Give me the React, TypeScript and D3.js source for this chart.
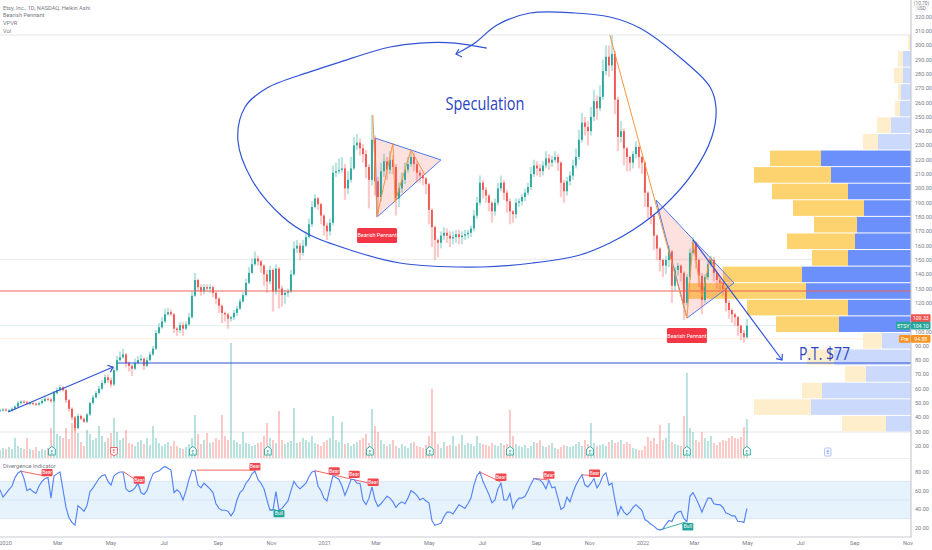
import React from "react";
import * as d3 from "d3";

// ---- price series (one reading every 3.44 calendar days, Heikin Ashi close) ----
const closes = [
  45,45.5,45,45,46,47.5,50,51,50.5,49.5,
  50,49.5,49,50,51.5,53,52.5,51.5,57,59,
  61,59,52,46,40,32.5,41,39,37,42,
  50,54,57,60,64,68,66,63,73,80,
  82,84,78,76,74,78,80,81,76,80,
  84,88,99,103,107,112,113.5,112,102,101,
  104.5,102,105,110,125,136,131,128,131,130,
  131,127,123,118,113,112,109,110,113,116,
  121,125.5,134,141,147,151,149,146,140,135,
  143,128,144,130,125.5,127,128,140,158,160,
  155,160,166,175,187,193,189,181,174,170,
  176,211,212,213,214,200,206,214,230,232,
  228,224,215,206,234,205,194,212,219,213,
  220,215,193,200,206,213,217,222,217,211,
  209,207,203,185,173,164,162,167,169,167,
  165,166,168,166,167,168,169,172,181,190,
  204,199,195,190,184,190,200,204,197,191,
  184,182,190,191,194,197,201,210,216,214,
  212,216,221,218,220,222,218,204,198,205,
  209,216,222,234,246,243,240,250,261,256,
  264,282,292,286,294,262,236,240,228,222,
  218,224,229,222,218,197,187,181,167,158,
  150,146,150,156,132,143,146,141,120,138,
  155,162,150,139,122,138,147,150,141,136,
  134,130,120,115,112,110,104,99,96,104,
];
const wickUp = [
  1,1,1,1,1,1,1.5,1,1,1,
  1,1,1,1,1.5,1.5,1,1,1.5,2,
  1.5,1,1,1,1,1,1.5,1,1,1,
  1,1.5,1.5,2,2,2,2,2,2,3,
  4,4,1,1,1,3,3,3,1,2,
  2,2,2,3,3,4,3,2,1,1,
  2,2,2,3,3,5,1,2,2,2,
  2,1,1,1,1,1,1,1,2,2,
  2,2,3,4,4,5,2,1,1,3,
  3,1,3,1,2,2,2,3,5,4,
  2,4,4,4,4,3,1,1,1,2,
  3,5,6,8,8,3,6,8,6,6,
  3,3,3,2,17,3,3,6,5,3,
  6,3,2,4,5,5,5,5,3,2,
  2,2,1,1,1,1,1,3,4,3,
  3,4,3,3,3,3,2,2,4,4,
  5,2,2,1,1,3,4,5,2,2,
  2,1,3,2,2,3,3,5,4,3,
  3,3,5,3,3,4,2,1,2,3,
  3,4,6,7,7,4,4,7,8,4,
  8,8,8,8,13,2,2,7,2,1,
  1,2,4,1,1,1,1,1,1,1,
  1,1,3,4,1,2,2,1,1,2,
  3,4,1,1,2,2,3,3,2,1,
  1,1,1,2,1,1,1,1,2,5,
];
const wickDown = [
  1,1,1,1,1,0.5,1,1,1,1,
  1,1,1,1,1,1,1,1.5,1,1,
  1,1,2,2,2,2,1,1,1,1,
  1,1,1,1,1,1,2,2,1,1,
  1,1,3,4,5,1,1,1,3,1,
  1,1,1,1,1,1,1,1,3,4,
  2,5,1,1,1,1,3,3,2,2,
  3,3,4,5,7,5,7,2,2,2,
  1,1,1,1,1,1,3,5,8,8,
  2,14,2,14,8,6,3,1,1,3,
  5,2,1,1,2,1,4,6,7,6,
  3,2,3,2,2,8,4,2,1,3,
  5,6,8,20,4,10,12,3,4,7,
  3,5,12,6,3,3,2,2,5,7,
  5,5,7,10,14,14,10,4,3,5,
  6,4,4,5,5,3,3,3,2,2,
  2,6,5,6,8,3,2,2,5,8,
  9,6,3,3,3,3,2,2,2,5,
  4,3,2,5,3,2,6,10,8,3,
  3,3,2,2,2,6,10,3,3,8,
  2,2,3,8,4,10,10,4,12,10,
  6,4,3,8,8,10,8,6,10,8,
  8,8,6,5,12,4,4,6,12,2,
  2,1,6,8,10,2,2,2,6,6,
  5,5,6,6,6,6,7,5,4,1,
];
const volumes = [
  8,10,9,11,9,20,12,10,9,20,
  9,8,11,7,9,8,10,30,67,24,
  22,20,30,19,35,30,25,16,12,28,
  24,18,20,32,22,16,20,25,40,26,
  18,20,28,15,14,12,16,18,14,20,
  13,32,20,15,12,14,16,12,17,12,
  10,9,11,14,20,43,24,14,18,25,
  15,16,20,18,43,22,18,115,18,16,
  14,26,15,14,12,13,15,16,22,35,
  20,18,15,47,18,14,16,17,50,15,
  16,20,18,16,22,15,14,12,16,18,
  20,42,18,16,36,14,15,12,14,16,
  18,20,24,15,49,32,26,18,14,12,
  14,18,12,10,14,12,10,15,16,12,
  11,10,13,22,69,26,14,10,16,12,
  13,22,12,14,23,13,15,14,12,22,
  15,14,13,12,15,13,12,15,13,14,
  48,22,14,12,11,13,10,12,16,15,
  18,12,11,13,15,10,9,11,13,12,
  11,12,14,16,12,18,14,35,15,12,
  13,14,12,16,18,15,16,18,14,16,
  14,10,9,8,8,12,21,17,20,14,
  33,18,20,35,16,14,13,12,42,85,
  30,26,18,16,26,20,17,22,15,13,
  16,18,17,20,22,20,19,21,31,39,
];
const rsi = [
  61,53,57,61,65,74,79,81,73,60,
  62,59,57,65,70,73,74,52,76,78,
  80,61,42,31,26,23,44,41,38,44,
  59,63,68,73,76,77,70,66,76,78.5,
  80,80,62,59,60,63,68,58,56,60,
  70,78,80,81,84,86,84,82,58,61,
  58,50,60,72,82,81,66,63,68,65,
  62,58,46,41,39,39,38,33,38,50,
  58,61,68,72,78,81,72,68,62,50,
  39,39,59,39,41,45,49,60,70,65,
  62,65,68,75,80,81,65,60,52,49,
  63,76,74,72,65,55,63,72,72,68,
  68,50,45,52,64,50,43,46,50,54,
  52,48,42,46,48,46,52,60,58,55,
  50,52,49,47,28,23,24,25,32,37,
  37,35,40,45,43,41,46,52,66,76,
  80,70,63,56,47,50,62,68,50,50,
  57,41,48,52,52,54,60,67,73,72,
  71.5,68,62,71,63,64,52,40,42,53,
  48,58,66,72,77,66,64,68,73,63,
  68,76,79,66,68,50,34,43,37,34,
  37,42,45,42,39,29,27,24,22,19,
  18,19,24,28,27,34,37,38,30,27,
  54,58,52,45,37,45,52,52,46,45,
  45,42,36,35,33,33,27,27,26,41,
];

// ---- visible-range volume profile, lowest bucket first ----
const vpUp = [25,100,89,45,77,29,72,63,105,109,63,56,54,47,63,80,90,33,20,11,10,8,8,1];
const vpDown = [44,57,20,21,27,19,63,101,118,79,36,68,43,71,76,77,51,15,14,5,3,9,5,2];
const vpBase = 29.8;
const vpStep = 11.59;
const vpValueArea = [6, 16];

// ---- levels ----
const levelGray = [307.2, 150.3, 29.8];
const levelLast = 104.1;
const levelHigh = 109.33;
const levelPre = 94.88;
const levelRed = 128.3;
const levelTarget = 78;
const priceTicks = d3.range(20, 321, 10).filter((v) => v !== 110);
const rsiTicks = [20, 40, 60, 80];
const rsiBands = [30, 50, 70];

// ---- drawings as [bar, price] ----
const loopStroke: [number, number][] = [
  [162.3,298],[151.7,301.6],[140,301.6],[130,298.8],[113.3,288.3],[103.3,281.4],[89,270.2],[81.7,256.9],
  [79.3,233.8],[84,205.9],[94.3,180],[103.3,167.4],[116.7,157],[133.3,147.9],[161,145.1],[177.7,147.9],
  [193.3,153.5],[203.3,161.9],[211,170.9],[221,187],[231,210.8],[237.3,235.9],[238.7,256.2],[236.7,270.9],
  [227.7,289.7],[213.3,312.1],[203.3,319.8],[191.7,322.6],[176.7,322.6],[165.7,314.2],[158.3,301.6],[152,293.9],
];
const arrowUp: [number, number][] = [[2.7,43.8],[37.7,75.2]];
const arrowDown: [number, number][] = [[231,164],[260.7,80.1]];
const targetStart = 39.3;
const orangeLong: [number, number][] = [[203.3,307.2],[229,109.4],[231,162.6],[234,124.1],[236.7,151.4],[241.7,129]];
const orangeFirst: [number, number][] = [[124.3,251.3],[125.7,180],[131,231.7],[131.7,190.5],[137,226.8],[141.7,209.4]];
const pennantFirst: [number, number][] = [[125,235.2],[147,219.9],[125.7,180]];
const pennantSecond: [number, number][] = [[218.7,191.9],[244.7,133.9],[229,109.4]];
const pennantLabels: [number, number][] = [[125.7,167.1],[229,97.2]];
const earningsUp = [17.3,64.3,89.3,123.3,143.3,170,196.7,229,249];
const earningsDown = [38];
const earningsFuture = "2022-08-01";

// ---- divergence marks as [bar, rsi] ----
const bearLines: [number, number, number, number][] = [
  [6.7,81,15,75.7],[41.1,80.4,46.1,69.6],[65.6,82,85,82],[105,81.4,124.4,67],
  [159.7,80.4,166.8,69.6],[178,73.2,183,71.4],[194,77,198.2,76],
];
const bullLines: [number, number, number, number][] = [[90,39.6,92,39.6],[220,17.9,229,26.8]];
const bearLabels: [number, number][] = [[15.7,79.3],[46.4,71.4],[85,85.7],[111.4,81],[118.1,77.5],[124.4,69],[167,74.3],[183,76.8],[198.2,78.6]];
const bullLabels: [number, number][] = [[93,35.4],[229.3,21.4]];

const legendLines = ["Etsy, Inc., 1D, NASDAQ, Heikin Ashi", "Bearish Pennant", "VPVR", "Vol"];

// ---- colours ----
const UP = "#26a69a";
const DOWN = "#ef5350";
const BLUE = "#3053d6";
const SKY = "#4d7bf0";
const ORANGE = "#f7953f";
const PINK = "rgba(244,67,54,0.16)";
const TEXT = "#787b86";
const UI = "Roboto, 'Liberation Sans', sans-serif";

// ---- scales ----
const W = 932;
const H = 550;
const AXIS_X = 911;
const DAY = 86400000;
const t0 = Date.UTC(2020, 0, 1);
const xTime = d3.scaleUtc().domain([new Date(t0), new Date(Date.UTC(2022, 0, 1))]).range([5.5, 5.5 + 731 * 0.872]);
const dateAt = (i: number) => new Date(t0 + (i * 3.44 - 6.31) * DAY);
const bx = (i: number) => xTime(dateAt(i));
const yP = d3.scaleLinear().domain([20, 320]).range([446, 446 - 300 * 1.431]);
const yV = d3.scaleLinear().domain([0, 115]).range([458, 343]);
const yR = d3.scaleLinear().domain([20, 80]).range([528, 472]);
const xVP = d3.scaleLinear().domain([0, 223]).range([AXIS_X, 688]);

const monthTicks = d3.utcMonth.range(new Date(t0), new Date(Date.UTC(2022, 11, 1)), 2);
const fmtTick = (d: Date) => (d.getUTCMonth() === 0 ? String(d.getUTCFullYear()) : d3.utcFormat("%b")(d));
const ptsStr = (pts: [number, number][]) => pts.map(([i, p]) => `${bx(i)},${yP(p)}`).join(" ");

const Arrow = ({ pts, color, w = 1.2 }: { pts: [number, number][]; color: string; w?: number }) => {
  const [a, b] = pts;
  const x1 = bx(a[0]), y1 = yP(a[1]), x2 = bx(b[0]), y2 = yP(b[1]);
  const ang = Math.atan2(y2 - y1, x2 - x1);
  const barb = (d: number) => `${x2 + 6 * Math.cos(ang + d)},${y2 + 6 * Math.sin(ang + d)}`;
  return (
    <g fill="none" stroke={color} strokeWidth={w}>
      <line x1={x1} y1={y1} x2={x2} y2={y2} />
      <polyline points={`${barb(Math.PI * 0.78)} ${x2},${y2} ${barb(-Math.PI * 0.78)}`} />
    </g>
  );
};

const Tag = ({ y, fill, text, x = AXIS_X, w = 19.5 }: { y: number; fill: string; text: string; x?: number; w?: number }) => (
  <g>
    <rect x={x} y={y - 3.8} width={w} height={7.6} rx={1} fill={fill} />
    <text x={x + w / 2} y={y + 1.9} textAnchor="middle" fontSize={5.2} fill="#fff" fontFamily={UI}>{text}</text>
  </g>
);

const DivLabel = ({ i, v, fill, text }: { i: number; v: number; fill: string; text: string }) => (
  <g>
    <rect x={bx(i) - 5.5} y={yR(v) - 3.7} width={11} height={7.4} rx={1} fill={fill} />
    <text x={bx(i)} y={yR(v) + 1.8} textAnchor="middle" fontSize={4.8} fill="#fff" fontFamily={UI}>{text}</text>
  </g>
);

export default function App() {
  const rsiPath = d3.line<number>().x((_, i) => bx(i)).y((v) => yR(v))(rsi) ?? "";
  const loopPath = d3.line<[number, number]>().x((d) => bx(d[0])).y((d) => yP(d[1])).curve(d3.curveCatmullRom.alpha(0.5))(loopStroke) ?? "";
  const tipA = loopStroke[loopStroke.length - 1];
  const tipX = bx(tipA[0]), tipY = yP(tipA[1]);

  return (
    <svg width={W} height={H} viewBox={`0 0 ${W} ${H}`} style={{ position: "absolute", left: 0, top: 0, background: "#fff" }} fontFamily={UI}>
      {/* horizontal levels */}
      {levelGray.map((v) => (
        <line key={v} x1={0} x2={AXIS_X} y1={yP(v)} y2={yP(v)} stroke="#eeeeef" strokeWidth={1.4} />
      ))}
      <line x1={0} x2={AXIS_X} y1={yP(levelLast)} y2={yP(levelLast)} stroke="#e3f2f1" strokeWidth={1.2} />
      <line x1={0} x2={AXIS_X} y1={yP(levelPre)} y2={yP(levelPre)} stroke="#fdeede" strokeWidth={1} />

      {/* RSI band */}
      <rect x={0} width={AXIS_X} y={yR(rsiBands[2])} height={yR(rsiBands[0]) - yR(rsiBands[2])} fill="#e6f3fd" />
      {rsiBands.map((v) => (
        <line key={v} x1={0} x2={AXIS_X} y1={yR(v)} y2={yR(v)} stroke="#d8e3ee" strokeWidth={0.9} />
      ))}
      <line x1={0} x2={AXIS_X} y1={458.5} y2={458.5} stroke="#f0f0f1" strokeWidth={1.2} />

      {/* volume profile */}
      {vpUp.map((u, i) => {
        const top = yP(vpBase + (i + 1) * vpStep);
        const h = yP(vpBase + i * vpStep) - top - 1;
        const solid = i >= vpValueArea[0] && i <= vpValueArea[1];
        return (
          <g key={i}>
            <rect x={xVP(u + vpDown[i])} y={top + 0.5} width={xVP(u) - xVP(u + vpDown[i])} height={h} fill={solid ? "#fdd36f" : "#ffeecc"} />
            <rect x={xVP(u)} y={top + 0.5} width={AXIS_X - xVP(u)} height={h} fill={solid ? "#6b8ffb" : "#cbd9fd"} />
          </g>
        );
      })}

      {/* volume */}
      {volumes.map((v, i) => {
        const up = i === 0 || closes[i] >= closes[i - 1];
        return (
          <rect key={i} x={bx(i) - 1} y={yV(v)} width={2} height={yV(0) - yV(v)}
            fill={up ? "rgba(38,166,154,0.32)" : "rgba(239,83,80,0.32)"} />
        );
      })}

      {/* pennant fills */}
      <polygon points={ptsStr(pennantFirst)} fill={PINK} stroke={SKY} strokeWidth={1} />
      <polygon points={ptsStr(pennantSecond)} fill={PINK} stroke={SKY} strokeWidth={1} />

      {/* candles */}
      {closes.map((c, i) => {
        const o = i === 0 ? c : closes[i - 1];
        const color = c >= o ? UP : DOWN;
        const hi = Math.max(o, c) + wickUp[i];
        const lo = Math.min(o, c) - wickDown[i];
        const top = yP(Math.max(o, c));
        const bot = yP(Math.min(o, c));
        return (
          <g key={i}>
            <line x1={bx(i)} x2={bx(i)} y1={yP(hi)} y2={yP(lo)} stroke={color} strokeOpacity={0.3} strokeWidth={2.2} />
            <rect x={bx(i) - 0.9} y={top} width={1.8} height={Math.max(bot - top, 1)} fill={color} />
          </g>
        );
      })}

      {/* levels above candles */}
      <line x1={0} x2={AXIS_X} y1={yP(levelRed)} y2={yP(levelRed)} stroke="#f0625a" strokeWidth={1.2} />
      <line x1={bx(targetStart)} x2={AXIS_X} y1={yP(levelTarget)} y2={yP(levelTarget)} stroke={BLUE} strokeWidth={1.2} />

      {/* drawings */}
      <polyline points={ptsStr(orangeFirst)} fill="none" stroke={ORANGE} strokeWidth={1} />
      <polyline points={ptsStr(orangeLong)} fill="none" stroke={ORANGE} strokeWidth={1} />
      <path d={loopPath} fill="none" stroke={BLUE} strokeWidth={1.2} />
      <polyline points={`${tipX + 3},${tipY - 5} ${tipX},${tipY} ${tipX + 6},${tipY + 3}`} fill="none" stroke={BLUE} strokeWidth={1.1} />
      <Arrow pts={arrowUp} color={BLUE} />
      <Arrow pts={arrowDown} color={BLUE} />
      <text x={485} y={110} textAnchor="middle" fill="#2d44c2" fontSize={19} fontFamily="'Liberation Sans Narrow', 'Open Sans', sans-serif" textLength={79} lengthAdjust="spacingAndGlyphs">Speculation</text>
      <text x={824.5} y={360} textAnchor="middle" fill="#2d44c2" fontSize={19} fontFamily="'Liberation Sans Narrow', 'Open Sans', sans-serif" textLength={51} lengthAdjust="spacingAndGlyphs">P.T. $77</text>
      {pennantLabels.map(([i, p]) => (
        <g key={i}>
          <rect x={bx(i) - 20} y={yP(p) - 7.5} width={40} height={15} rx={1.5} fill="#f23645" />
          <text x={bx(i)} y={yP(p) + 2} textAnchor="middle" fontSize={5.4} fill="#fff">Bearish Pennant</text>
        </g>
      ))}

      {/* earnings marks */}
      {earningsUp.map((i) => {
        const x = bx(i);
        return (
          <g key={i}>
            <path d={`M${x},446.5 L${x + 3.4},449 V455 H${x - 3.4} V449 Z`} fill="#fff" stroke={UP} strokeWidth={0.9} />
            <text x={x} y={453.5} textAnchor="middle" fontSize={4.6} fill={UP}>E</text>
          </g>
        );
      })}
      {earningsDown.map((i) => {
        const x = bx(i);
        return (
          <g key={i}>
            <path d={`M${x},456 L${x + 3.4},453.5 V447.5 H${x - 3.4} V453.5 Z`} fill="#fff" stroke={DOWN} strokeWidth={0.9} />
            <text x={x} y={453} textAnchor="middle" fontSize={4.6} fill={DOWN}>E</text>
          </g>
        );
      })}
      <rect x={xTime(new Date(earningsFuture)) - 3.2} y={448} width={6.4} height={8} rx={1} fill="#fff" stroke="#a9b9f2" strokeWidth={0.9} />
      <text x={xTime(new Date(earningsFuture))} y={454} textAnchor="middle" fontSize={4.6} fill="#5b7ff5">E</text>

      {/* divergence pane */}
      <text x={3} y={467.5} fontSize={5.8} fill={TEXT}>Divergence Indicator</text>
      {bearLines.map(([a, b, c, d], k) => (
        <line key={k} x1={bx(a)} y1={yR(b)} x2={bx(c)} y2={yR(d)} stroke={DOWN} strokeWidth={0.9} />
      ))}
      {bullLines.map(([a, b, c, d], k) => (
        <line key={k} x1={bx(a)} y1={yR(b)} x2={bx(c)} y2={yR(d)} stroke={UP} strokeWidth={0.9} />
      ))}
      <path d={rsiPath} fill="none" stroke="#5583f4" strokeWidth={1.15} />
      {bearLabels.map(([i, v], k) => <DivLabel key={k} i={i} v={v} fill="#f0484f" text="Bear" />)}
      {bullLabels.map(([i, v], k) => <DivLabel key={k} i={i} v={v} fill={UP} text="Bull" />)}

      {/* legend */}
      {legendLines.map((t, i) => (
        <text key={t} x={3} y={9.5 + i * 7.7} fontSize={5.7} fill={TEXT}>{t}</text>
      ))}

      {/* frame */}
      <line x1={AXIS_X} x2={AXIS_X} y1={0} y2={537} stroke="#c9cbd1" strokeWidth={1.2} />
      <line x1={0} x2={AXIS_X + 1} y1={537} y2={537} stroke="#c9cbd1" strokeWidth={1.2} />

      {/* price axis */}
      <text x={921.5} y={4.6} textAnchor="middle" fontSize={4.8} fill={TEXT}>(10.70)</text>
      <rect x={916} y={5.2} width={11} height={5.8} rx={1.5} fill="#fff" stroke="#d7d8dc" strokeWidth={0.5} />
      <text x={921.5} y={9.9} textAnchor="middle" fontSize={4.6} fill={TEXT}>USD</text>
      {priceTicks.map((v) => (
        <text key={v} x={915} y={yP(v) + 2} fontSize={5.5} fill={TEXT}>{d3.format(".2f")(v)}</text>
      ))}
      {rsiTicks.map((v) => (
        <text key={v} x={915} y={yR(v) + 2} fontSize={5.5} fill={TEXT}>{d3.format(".2f")(v)}</text>
      ))}

      {/* time axis */}
      {monthTicks.map((d) => (
        <text key={d.getTime()} x={xTime(d)} y={545} textAnchor="middle" fontSize={5.6} fill={TEXT}>{fmtTick(d)}</text>
      ))}

      {/* price tags */}
      <Tag y={yP(levelHigh)} fill="#ef5350" text="109.33" />
      <Tag y={yP(levelLast)} fill={UP} text="104.10" />
      <Tag y={yP(levelLast)} fill={UP} text="ETSY" x={896} w={14.5} />
      <Tag y={yP(levelPre)} fill="#f7931e" text="94.88" />
      <Tag y={yP(levelPre)} fill="#f7931e" text="Pre" x={899} w={11.5} />
    </svg>
  );
}
